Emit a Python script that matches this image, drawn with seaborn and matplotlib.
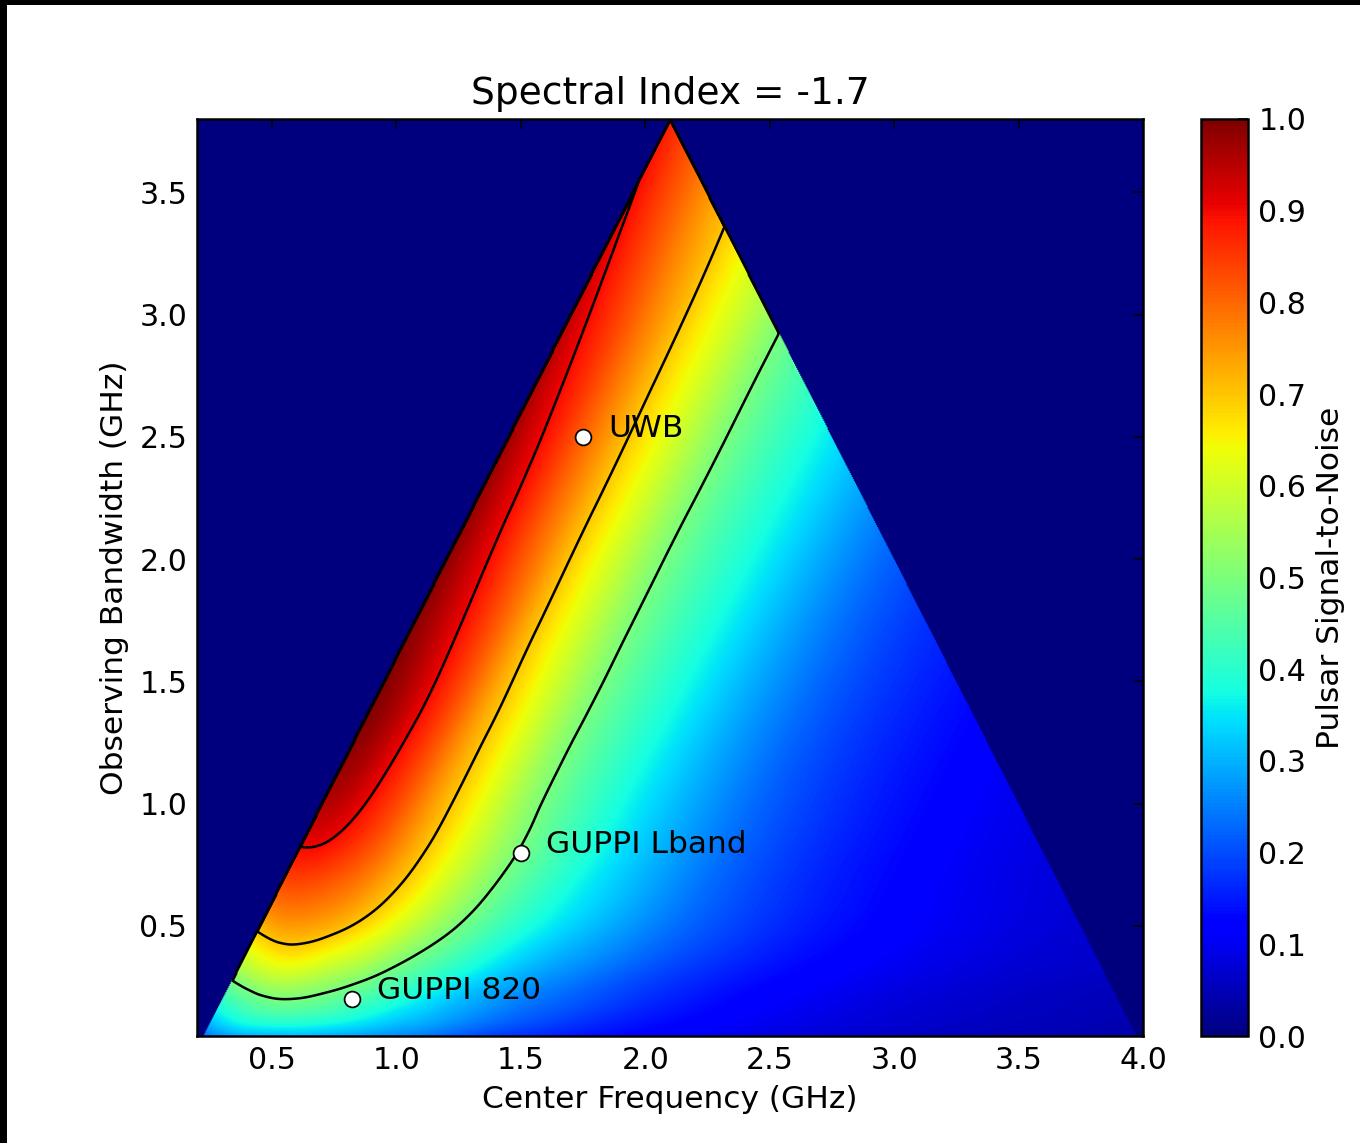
import numpy as np
import pandas as pd
import matplotlib
matplotlib.use("Agg")
import matplotlib.pyplot as plt
import matplotlib.tri as mtri
from matplotlib.patches import Rectangle
import seaborn as sns

# ---------------- data ----------------
spectral_index = -1.7
f_min_ghz = 0.2
f_max_ghz = 4.0

# Signal-to-noise read on a grid: rows = observing bandwidth (GHz),
# columns = lower band edge (GHz) = centre frequency - bandwidth / 2
bw_rows = [0.05, 0.1, 0.2, 0.3, 0.4, 0.5, 0.65, 0.8, 1.0, 1.3, 1.7, 2.2, 2.8, 3.4, 3.8]
flo_cols = [0.2, 0.3, 0.4, 0.5, 0.6, 0.7, 0.8, 1.0, 1.2, 1.5, 2.0, 2.5, 3.0, 3.5, 4.0]

snr_bw005 = [0.240, 0.285, 0.305, 0.310, 0.310, 0.300, 0.290, 0.260, 0.220, 0.170, 0.120, 0.085, 0.062, 0.048, 0.038]
snr_bw010 = [0.310, 0.360, 0.385, 0.390, 0.385, 0.370, 0.350, 0.305, 0.260, 0.200, 0.135, 0.095, 0.070, 0.053, 0.042]
snr_bw020 = [0.415, 0.465, 0.495, 0.497, 0.480, 0.455, 0.425, 0.360, 0.300, 0.235, 0.158, 0.108, 0.078, 0.058, 0.045]
snr_bw030 = [0.525, 0.576, 0.600, 0.585, 0.558, 0.528, 0.490, 0.415, 0.345, 0.268, 0.178, 0.122, 0.088, 0.066, 0.052]
snr_bw040 = [0.628, 0.672, 0.683, 0.662, 0.630, 0.595, 0.548, 0.462, 0.383, 0.298, 0.198, 0.134, 0.096, 0.071, 0.055]
snr_bw050 = [0.718, 0.745, 0.742, 0.722, 0.688, 0.645, 0.595, 0.498, 0.412, 0.322, 0.210, 0.141, 0.100, 0.074, 0.056]
snr_bw065 = [0.818, 0.822, 0.806, 0.778, 0.735, 0.688, 0.635, 0.528, 0.437, 0.338, 0.216, 0.143, 0.099, 0.073, 0.055]
snr_bw080 = [0.890, 0.885, 0.855, 0.815, 0.762, 0.706, 0.652, 0.543, 0.449, 0.345, 0.218, 0.143, 0.098, 0.072, 0.055]
snr_bw100 = [0.955, 0.935, 0.887, 0.836, 0.773, 0.712, 0.658, 0.542, 0.450, 0.347, 0.218, 0.143, 0.097, 0.071, 0.054]
snr_bw130 = [0.995, 0.960, 0.904, 0.845, 0.778, 0.712, 0.656, 0.541, 0.450, 0.349, 0.218, 0.143, 0.097, 0.071, 0.054]
snr_bw170 = [0.995, 0.950, 0.897, 0.838, 0.772, 0.704, 0.648, 0.539, 0.450, 0.352, 0.219, 0.144, 0.098, 0.072, 0.054]
snr_bw220 = [0.985, 0.930, 0.875, 0.815, 0.755, 0.695, 0.643, 0.537, 0.450, 0.355, 0.220, 0.145, 0.098, 0.072, 0.054]
snr_bw280 = [0.955, 0.900, 0.850, 0.795, 0.740, 0.685, 0.637, 0.536, 0.450, 0.355, 0.220, 0.145, 0.098, 0.072, 0.054]
snr_bw340 = [0.912, 0.858, 0.810, 0.760, 0.715, 0.670, 0.625, 0.535, 0.450, 0.355, 0.220, 0.145, 0.098, 0.072, 0.054]
snr_bw380 = [0.878, 0.830, 0.785, 0.740, 0.695, 0.655, 0.615, 0.530, 0.448, 0.355, 0.220, 0.145, 0.098, 0.072, 0.054]

snr_table = [snr_bw005, snr_bw010, snr_bw020, snr_bw030, snr_bw040, snr_bw050,
             snr_bw065, snr_bw080, snr_bw100, snr_bw130, snr_bw170, snr_bw220,
             snr_bw280, snr_bw340, snr_bw380]

contour_levels = [0.5, 0.7, 0.9]

receiver_names = ["GUPPI 820", "GUPPI Lband", "UWB"]
receiver_fc = [0.82, 1.5, 1.75]
receiver_bw = [0.2, 0.8, 2.5]

x_ticks = [0.5, 1.0, 1.5, 2.0, 2.5, 3.0, 3.5, 4.0]
y_ticks = [0.5, 1.0, 1.5, 2.0, 2.5, 3.0, 3.5]
cbar_ticks = [0.0, 0.1, 0.2, 0.3, 0.4, 0.5, 0.6, 0.7, 0.8, 0.9, 1.0]

# ---------------- style ----------------
sns.set_style("white")
plt.rcParams.update({
    "font.family": ["DejaVu Sans"],
    "font.size": 12,
    "axes.linewidth": 1.0,
    "axes.edgecolor": "black",
    "xtick.direction": "in",
    "ytick.direction": "in",
    "xtick.top": True,
    "ytick.right": True,
    "xtick.major.size": 4,
    "ytick.major.size": 4,
    "xtick.major.width": 0.6,
    "ytick.major.width": 0.6,
    "xtick.major.pad": 4,
    "ytick.major.pad": 4,
    "xtick.color": "black",
    "ytick.color": "black",
    "text.color": "black",
    "axes.labelcolor": "black",
})

DPI = 180
fig = plt.figure(figsize=(1360 / DPI, 1143 / DPI), dpi=DPI)
fig.patch.set_facecolor("white")

ax = fig.add_axes([0.1451, 0.0936, 0.6954, 0.8023])
cax = fig.add_axes([0.8829, 0.0936, 0.0350, 0.8023])

# ---------------- field: library interpolation of the read grid ----------------
flo_g, bw_g = np.meshgrid(flo_cols, bw_rows)
vals = np.array(snr_table, dtype=float)
ny, nx = vals.shape
idx = np.arange(ny * nx).reshape(ny, nx)
tris = []
for j in range(ny - 1):
    for i in range(nx - 1):
        a, b, c, d = idx[j, i], idx[j, i + 1], idx[j + 1, i], idx[j + 1, i + 1]
        tris.append([a, b, d])
        tris.append([a, d, c])
tri = mtri.Triangulation(flo_g.ravel(), bw_g.ravel(), np.array(tris))
interp = mtri.CubicTriInterpolator(tri, vals.ravel(), kind="min_E")

fc_axis = np.linspace(f_min_ghz, f_max_ghz, 900)
bw_axis = np.linspace(bw_rows[0], bw_rows[-1], 900)
FC, BW = np.meshgrid(fc_axis, bw_axis)
FLO = FC - BW / 2.0
inside = (FLO >= f_min_ghz) & (FLO + BW <= f_max_ghz)
Zi = interp(np.clip(FLO, flo_cols[0], flo_cols[-1]), BW)
Z = np.where(inside, np.ma.filled(Zi, 0.0), 0.0)
Z = np.clip(Z, 0.0, 1.0)

im = ax.imshow(Z, extent=[f_min_ghz, f_max_ghz, bw_axis[0], bw_axis[-1]],
               origin="lower", aspect="auto", cmap="jet", vmin=0.0, vmax=1.0,
               interpolation="bilinear")
ax.contour(FC, BW, Z, levels=contour_levels, colors="black", linewidths=1.0)

# ---------------- receivers ----------------
rx = pd.DataFrame({"name": receiver_names, "fc": receiver_fc, "bw": receiver_bw})
sns.scatterplot(data=rx, x="fc", y="bw", ax=ax, color="white", edgecolor="black",
                s=40, linewidth=0.7, zorder=5, legend=False)
for _, r in rx.iterrows():
    ax.text(r["fc"] + 0.1, r["bw"], r["name"], fontsize=12.5, zorder=6)

ax.set_xlim(f_min_ghz, f_max_ghz)
ax.set_ylim(bw_axis[0], bw_axis[-1])
ax.set_xticks(x_ticks)
ax.set_yticks(y_ticks)
ax.set_xticklabels([f"{t:.1f}" for t in x_ticks], fontsize=12)
ax.set_yticklabels([f"{t:.1f}" for t in y_ticks], fontsize=12)
ax.set_xlabel("Center Frequency (GHz)", fontsize=12.5)
ax.set_ylabel("Observing Bandwidth (GHz)", fontsize=12.5)
ax.set_title(f"Spectral Index = {spectral_index}", fontsize=15)
for s in ax.spines.values():
    s.set_linewidth(1.0)
    s.set_color("black")

cb = fig.colorbar(im, cax=cax, ticks=cbar_ticks)
cb.ax.set_yticklabels([f"{t:.1f}" for t in cbar_ticks], fontsize=12)
cb.ax.tick_params(direction="in", length=4, width=0.6, right=True, left=False)
cb.outline.set_linewidth(1.0)
cb.set_label("Pulsar Signal-to-Noise", fontsize=12.5)

# black screen-capture frame at top and left
fig.add_artist(Rectangle((0, 1 - 5 / 1143), 1, 5 / 1143, transform=fig.transFigure,
                         facecolor="black", edgecolor="none", zorder=10))
fig.add_artist(Rectangle((0, 0), 7 / 1360, 1, transform=fig.transFigure,
                         facecolor="black", edgecolor="none", zorder=10))

fig.savefig("out.png", dpi=DPI)
